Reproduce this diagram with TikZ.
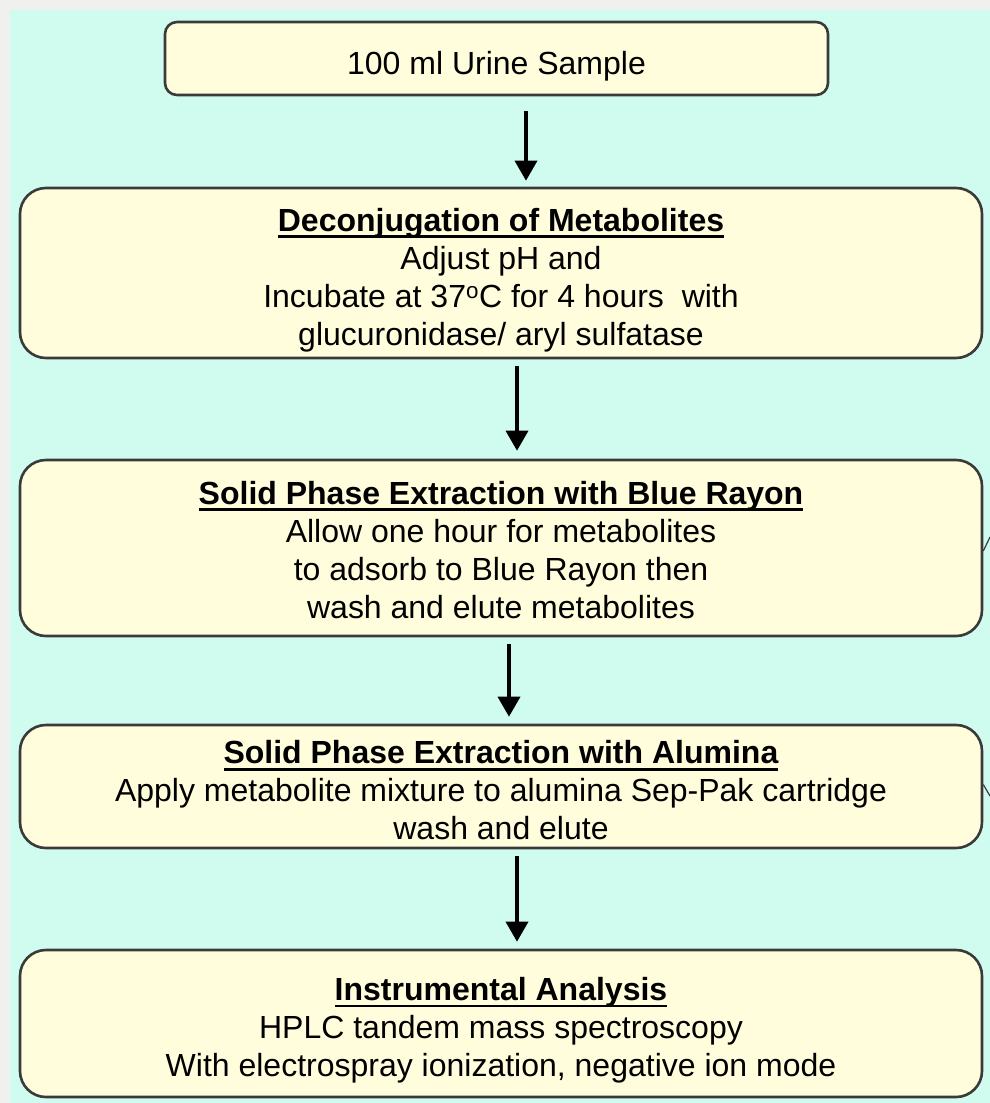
\documentclass[tikz,border=0pt]{standalone}
\usepackage{fontspec}
\setmainfont{Liberation Sans}
\newcommand\myul[1]{\setbox0\hbox{#1}\rlap{\vrule height -4pt depth 6.8pt width \wd0}\box0}
\newcommand\lift[1]{\rule{0pt}{#1}}
\usetikzlibrary{arrows.meta}
\definecolor{bgcyan}{RGB}{208,252,239}
\definecolor{boxfill}{RGB}{255,253,220}
\definecolor{outergray}{RGB}{240,240,238}
\definecolor{boxline}{RGB}{58,58,58}
\tikzset{
  stepbox/.style={draw=boxline, line width=2.6pt, fill=boxfill, rounded corners=26pt,
    align=center, inner sep=0pt, font=\fontsize{32}{38}\selectfont},
  arr/.style={line width=3.6pt, -{Triangle[width=22pt,length=20pt]}},
  tick/.style={line width=1.2pt, draw=boxline}
}
\begin{document}
\begin{tikzpicture}[x=1pt,y=-1pt]
\useasboundingbox (0,0) rectangle (990,1103);
\fill[outergray] (0,0) rectangle (990,1103);
\fill[bgcyan] (10,10) rectangle (990,1103);

\node[stepbox, rounded corners=12pt, minimum width=663pt, minimum height=73pt] (b1) at (496.5,58.5)
  {\lift{39pt}100 ml Urine Sample};
\node[stepbox, minimum width=962pt, minimum height=170pt] (b2) at (501,273)
  {\lift{37pt}\myul{\textbf{Deconjugation of Metabolites}}\\ Adjust pH and\\ Incubate at 37\textsuperscript{o}C for 4 hours\ \ with\\ glucuronidase/ aryl sulfatase};
\node[stepbox, minimum width=962pt, minimum height=176pt] (b3) at (501,548)
  {\lift{27pt}\myul{\textbf{Solid Phase Extraction with Blue Rayon}}\\ Allow one hour for metabolites\\ to adsorb to Blue Rayon then\\ wash and elute metabolites};
\node[stepbox, minimum width=962pt, minimum height=123pt] (b4) at (501,786.5)
  {\lift{31pt}\myul{\textbf{Solid Phase Extraction with Alumina}}\\ Apply metabolite mixture to alumina Sep-Pak cartridge\\ wash and elute};
\node[stepbox, minimum width=962pt, minimum height=147pt] (b5) at (501,1023.5)
  {\lift{37pt}\myul{\textbf{Instrumental Analysis}}\\ HPLC tandem mass spectroscopy\\ With electrospray ionization, negative ion mode};

\draw[arr] ([xshift=29.5pt,yshift=-15pt]b1.south) -- ([xshift=25pt,yshift=6pt]b2.north);
\draw[arr] ([xshift=16pt,yshift=-7pt]b2.south) -- ([xshift=16pt,yshift=8pt]b3.north);
\draw[arr] ([xshift=8pt,yshift=-7pt]b3.south) -- ([xshift=8pt,yshift=7pt]b4.north);
\draw[arr] ([xshift=16pt,yshift=-7pt]b4.south) -- ([xshift=16pt,yshift=7pt]b5.north);

\coordinate (t1) at (990,537);
\coordinate (t2) at (990,796);
\draw[tick] ([yshift=-3pt]b3.east) -- (t1);
\draw[tick] ([yshift=2pt]b4.east) -- (t2);
\end{tikzpicture}
\end{document}
